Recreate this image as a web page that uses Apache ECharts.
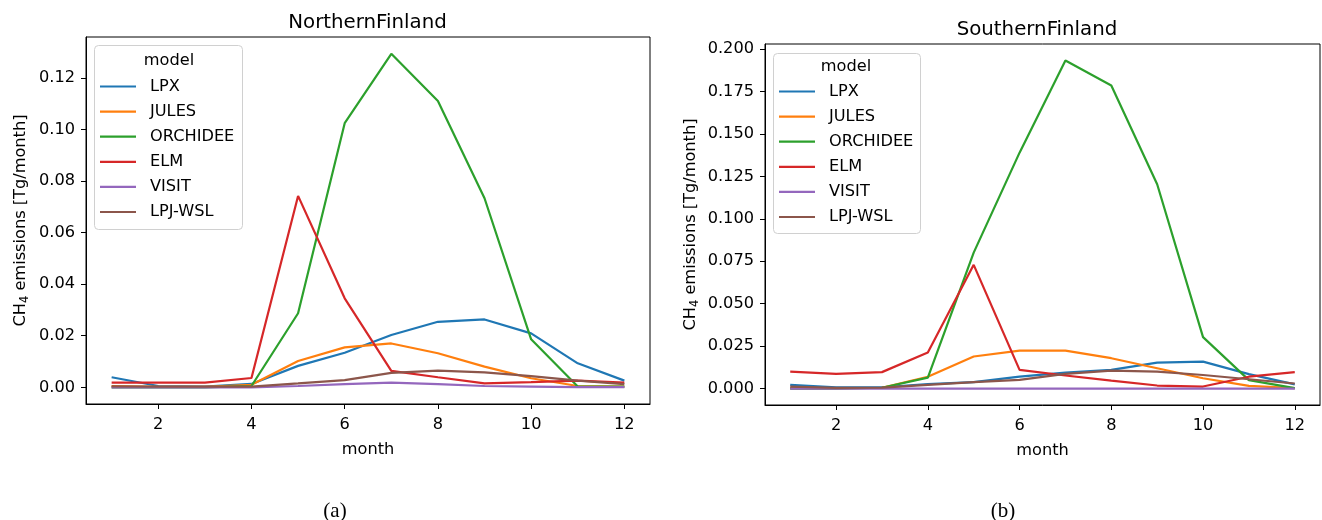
<!DOCTYPE html>
<html>
<head>
<meta charset="utf-8">
<script src="https://cdn.jsdelivr.net/npm/echarts@6/dist/echarts.min.js"></script>
<style>
html,body{margin:0;padding:0;background:#fff;}
#chart{width:1322px;height:520px;}
</style>
</head>
<body>
<div id="chart"></div>
<script>
// ---- data ----
var months = [1,2,3,4,5,6,7,8,9,10,11,12];
var models = ['LPX','JULES','ORCHIDEE','ELM','VISIT','LPJ-WSL'];
var colors = ['#1f77b4','#ff7f0e','#2ca02c','#d62728','#9467bd','#8c564b'];
var xTicks = [2,4,6,8,10,12];
var yTicksNorth = [0,0.02,0.04,0.06,0.08,0.10,0.12];
var yTicksSouth = [0,0.025,0.05,0.075,0.1,0.125,0.15,0.175,0.2];

// Northern Finland
var north_LPX      = [0.0039,0.0005,0.0003,0.0013,0.0083,0.0134,0.0203,0.0254,0.0263,0.0209,0.0093,0.0026];
var north_JULES    = [0.0005,0.0002,0.0002,0.0010,0.0102,0.0155,0.0170,0.0132,0.0080,0.0035,0.0005,0.0003];
var north_ORCHIDEE = [0.0000,0.0000,0.0000,0.0005,0.0287,0.1024,0.1293,0.1110,0.0733,0.0186,0.0003,0.0003];
var north_ELM      = [0.0018,0.0018,0.0018,0.0036,0.0742,0.0345,0.0064,0.0039,0.0015,0.0020,0.0026,0.0018];
var north_VISIT    = [0.0000,0.0000,0.0000,0.0000,0.0005,0.0012,0.0018,0.0012,0.0005,0.0003,0.0001,0.0001];
var north_LPJWSL   = [0.0004,0.0003,0.0003,0.0003,0.0015,0.0028,0.0056,0.0065,0.0058,0.0043,0.0026,0.0012];

// Southern Finland
var south_LPX      = [0.0022,0.0008,0.0008,0.0026,0.0038,0.0071,0.0094,0.0110,0.0153,0.0159,0.0085,0.0025];
var south_JULES    = [0.0003,0.0001,0.0005,0.0070,0.0189,0.0224,0.0224,0.0179,0.0120,0.0061,0.0016,0.0003];
var south_ORCHIDEE = [0.0000,0.0000,0.0005,0.0065,0.0801,0.1390,0.1933,0.1786,0.1204,0.0303,0.0050,0.0003];
var south_ELM      = [0.0100,0.0087,0.0097,0.0212,0.0729,0.0110,0.0077,0.0047,0.0018,0.0012,0.0070,0.0097];
var south_VISIT    = [0.0000,0.0000,0.0000,0.0000,0.0000,0.0000,0.0000,0.0000,0.0000,0.0000,0.0000,0.0000];
var south_LPJWSL   = [0.0012,0.0004,0.0006,0.0022,0.0038,0.0051,0.0087,0.0106,0.0100,0.0080,0.0055,0.0030];

var northData = [north_LPX,north_JULES,north_ORCHIDEE,north_ELM,north_VISIT,north_LPJWSL];
var southData = [south_LPX,south_JULES,south_ORCHIDEE,south_ELM,south_VISIT,south_LPJWSL];

// ---- chart ----
var FONT = 'DejaVu Sans';
var FS = 16.2;
var chart = echarts.init(document.getElementById('chart'), null, {renderer:'canvas'});

function pairs(arr){ return months.map(function(m,i){ return [m, arr[i]]; }); }

var series = [];
models.forEach(function(name,i){
  series.push({name:name,type:'line',xAxisIndex:0,yAxisIndex:0,data:pairs(northData[i]),
    showSymbol:false,symbol:'none',lineStyle:{width:2.2,color:colors[i]},itemStyle:{color:colors[i]},
    emphasis:{disabled:true},animation:false});
});
models.forEach(function(name,i){
  series.push({name:name,type:'line',xAxisIndex:1,yAxisIndex:1,data:pairs(southData[i]),
    showSymbol:false,symbol:'none',lineStyle:{width:2.2,color:colors[i]},itemStyle:{color:colors[i]},
    emphasis:{disabled:true},animation:false});
});

function xAxis(gi){
  return {type:'value',gridIndex:gi,min:0.45,max:12.55,
    name:'month',nameLocation:'middle',nameGap:38,
    nameTextStyle:{fontFamily:FONT,fontSize:FS,color:'#000'},
    axisLine:{show:true,onZero:false,lineStyle:{color:'#000',width:1}},
    axisTick:{show:true,inside:false,length:5,lineStyle:{color:'#000'},customValues:xTicks},
    axisLabel:{show:true,margin:13,fontFamily:FONT,fontSize:FS,color:'#000',customValues:xTicks,
      formatter:function(v){return String(v);}},
    splitLine:{show:false}};
}
function yAxis(gi,min,max,ticks,dec,gap){
  return {type:'value',gridIndex:gi,min:min,max:max,
    name:'{a|CH}{s|4}{a| emissions [Tg/month]}',nameLocation:'middle',nameRotate:90,nameGap:gap,
    nameTextStyle:{fontFamily:FONT,fontSize:FS,color:'#000',
      rich:{a:{fontFamily:FONT,fontSize:FS,color:'#000'},s:{fontFamily:FONT,fontSize:11.5,color:'#000',padding:[8,0,0,0]}}},
    axisLine:{show:true,onZero:false,lineStyle:{color:'#000',width:1}},
    axisTick:{show:true,inside:false,length:5,lineStyle:{color:'#000'},customValues:ticks},
    axisLabel:{show:true,margin:11,fontFamily:FONT,fontSize:FS,color:'#000',customValues:ticks,
      formatter:function(v){return v.toFixed(dec);}},
    splitLine:{show:false}};
}

function legend(left,top){
  return {show:true,orient:'vertical',left:left,top:top,data:models,icon:'rect',
    itemWidth:36,itemHeight:2.2,itemGap:9.1,selectedMode:false,
    textStyle:{fontFamily:FONT,fontSize:FS,color:'#000',padding:[0,0,0,9]}};
}

var option = {
  backgroundColor:'#fff',
  animation:false,
  title:[
    {text:'NorthernFinland',left:362.5,top:8,textAlign:'center',textStyle:{fontFamily:FONT,fontSize:19.8,fontWeight:'normal',color:'#000'}},
    {text:'SouthernFinland',left:1032,top:15,textAlign:'center',textStyle:{fontFamily:FONT,fontSize:19.8,fontWeight:'normal',color:'#000'}},
    {text:'(a)',left:330,top:496,textAlign:'center',textStyle:{fontFamily:'Liberation Serif',fontSize:21,fontWeight:'normal',color:'#000'}},
    {text:'(b)',left:998,top:496,textAlign:'center',textStyle:{fontFamily:'Liberation Serif',fontSize:21,fontWeight:'normal',color:'#000'}}
  ],
  grid:[
    {left:86,top:37,width:564,height:367,show:true,borderColor:'#000',borderWidth:1,backgroundColor:'transparent'},
    {left:765,top:44,width:555,height:361,show:true,borderColor:'#000',borderWidth:1,backgroundColor:'transparent'}
  ],
  xAxis:[xAxis(0),xAxis(1)],
  yAxis:[yAxis(0,-0.00647,0.1358,yTicksNorth,2,55), yAxis(1,-0.00967,0.2030,yTicksSouth,3,64)],
  legend:[legend(95,73.5),legend(774,78.5)],
  graphic:[
    {type:'rect',z:-1,shape:{x:94.5,y:45.5,width:148,height:184,r:4},style:{fill:'rgba(255,255,255,0.8)',stroke:'#d0d0d0',lineWidth:1}},
    {type:'text',z:5,style:{x:169,y:61,text:'model',fontFamily:FONT,fontSize:FS,fill:'#000',align:'center',verticalAlign:'middle'}},
    {type:'rect',z:-1,shape:{x:773.5,y:53.5,width:147,height:180,r:4},style:{fill:'rgba(255,255,255,0.8)',stroke:'#d0d0d0',lineWidth:1}},
    {type:'text',z:5,style:{x:846,y:67,text:'model',fontFamily:FONT,fontSize:FS,fill:'#000',align:'center',verticalAlign:'middle'}}
  ],
  series:series
};
chart.setOption(option);
</script>
</body>
</html>
